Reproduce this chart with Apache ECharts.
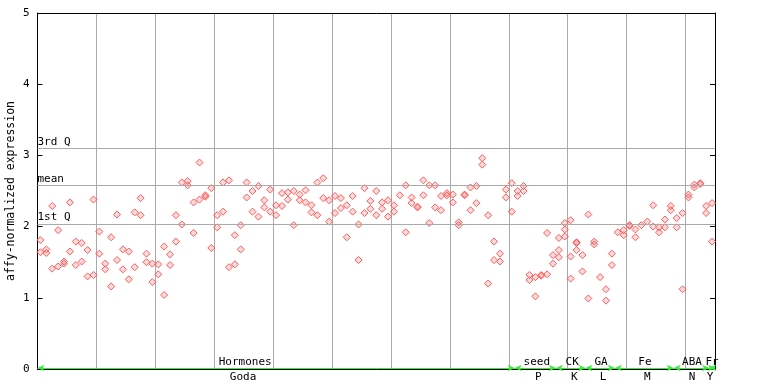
<!DOCTYPE html>
<html><head><meta charset="utf-8">
<script src="https://cdn.jsdelivr.net/npm/echarts@6/dist/echarts.min.js"></script>
<style>html,body{margin:0;padding:0;background:#fff}#c{width:768px;height:384px}</style>
</head><body><div id="c"></div>
<script>
// replicate values per sample slot (left to right)
const expr = [
 [1.81,1.64],[1.68,1.63],[2.29,1.41],[1.95,1.44],[1.51,1.48],[2.34,1.65],[1.79,1.46],[1.77,1.51],[1.67,1.30],[2.38,1.32],
 [1.93,1.62],[1.48,1.40],[1.85,1.16],[2.17,1.53],[1.68,1.40],[1.65,1.26],[2.20,1.43],[2.40,2.16],[1.62,1.50],[1.48,1.22],
 [1.47,1.33],[1.72,1.04],[1.61,1.46],[2.16,1.79],[2.62,2.03],[2.64,2.58],[2.34,1.91],[2.90,2.38],[2.44,2.42],[2.54,1.70],
 [2.16,1.99],[2.62,2.21],[2.65,1.43],[1.88,1.47],[2.02,1.68],[2.62,2.41],[2.50,2.21],[2.57,2.14],[2.37,2.27],[2.52,2.21],
 [2.30,2.16],[2.47,2.29],[2.48,2.38],[2.50,2.02],[2.45,2.37],[2.51,2.34],[2.30,2.20],[2.62,2.16],[2.68,2.40],[2.37,2.07],
 [2.43,2.19],[2.40,2.26],[2.30,1.85],[2.43,2.21],[2.03,1.53],[2.54,2.19],[2.36,2.25],[2.50,2.16],[2.34,2.25],[2.37,2.14],
 [2.30,2.21],[2.44],[2.58,1.92],[2.41,2.33],[2.28,2.27],[2.65,2.44],[2.58,2.05],[2.58,2.27],[2.43,2.23],[2.47,2.44],
 [2.45,2.34],[2.06,2.02],[2.45,2.44],[2.55,2.23],[2.57,2.33],[2.96,2.87],[2.16,1.20],[1.79,1.53],[1.62,1.51],[2.52,2.41],
 [2.61,2.21],[2.50,2.43],[2.57,2.50],[1.32,1.25],[1.29,1.02],[1.32,1.31],[1.91,1.33],[1.60,1.48],[1.84,1.67,1.57],[2.05,1.96,1.86],
 [2.09,1.58,1.27],[1.78,1.77,1.67],[1.60,1.37],[2.17,0.99],[1.79,1.75],[1.29],[1.12,0.96],[1.62,1.46],[1.92],[1.95,1.88],
 [2.02,2.01],[1.96,1.85],[2.02],[2.07],[2.30,2.00],[1.99,1.92],[2.10,1.99],[2.29,2.23],[2.12,1.99],[2.19,1.12],
 [2.45,2.41],[2.59,2.55],[2.61,2.60],[2.29,2.19],[2.33,1.79]
];
const groupNames = ['Hormones','seed','CK','GA','Fe','ABA','Fr'];
const groupSubs  = ['Goda','P','K','L','M','N','Y'];
const groupStart = [0,81,88,93,98,108,114];
const groupEnd   = [81,88,93,98,108,114,115];
const labelPos = [70.5,169.5,181.5,191.3,206.2,222.2,229];
const subPos   = [69.8,170,182.2,192,207,222.2,228.3];
const qNames  = ['3rd Q','mean','1st Q'];
const qValues = [3.10,2.58,2.04];
const yMax = 5;

const FONT = 'DejaVu Sans Mono';
const pts = [];
expr.forEach((reps,k)=>reps.forEach(v=>pts.push([2*k+1,v])));

const chart = echarts.init(document.getElementById('c'),null,{renderer:'canvas'});
const arrowData = groupStart.map((s,i)=>[{coord:[2*s,0.014]},{coord:[2*groupEnd[i],0.014]}]);
chart.setOption({
  animation:false,
  grid:{left:37.5,right:53,top:13,bottom:15,containLabel:false,outerBoundsMode:'none'},
  xAxis:[
    {type:'value',min:0,max:2*expr.length,interval:20,
     axisLine:{show:true,onZero:false,lineStyle:{color:'#000',width:1}},
     axisTick:{show:false},axisLabel:{show:false},
     splitLine:{show:true,lineStyle:{color:'#aaa',width:1}}},
    {type:'value',position:'top',min:0,max:2*expr.length,
     axisLine:{show:true,onZero:false,lineStyle:{color:'#000',width:1}},
     axisTick:{show:false},axisLabel:{show:false},splitLine:{show:false}}
  ],
  yAxis:[
    {type:'value',min:0,max:yMax,interval:1,
     name:'affy-normalized expression',nameLocation:'middle',nameRotate:90,nameGap:20,nameMoveOverlap:false,
     nameTextStyle:{fontFamily:FONT,fontSize:11.5,color:'#000'},
     axisLine:{show:true,onZero:false,lineStyle:{color:'#000'}},
     axisTick:{show:true,inside:true,length:5,lineStyle:{color:'#000'}},
     axisLabel:{fontFamily:FONT,fontSize:11,color:'#000',margin:8},
     splitLine:{show:false}},
    {type:'value',min:0,max:yMax,interval:1,position:'right',
     axisLine:{show:true,onZero:false,lineStyle:{color:'#000'}},
     axisTick:{show:true,inside:true,length:5,lineStyle:{color:'#000'}},
     axisLabel:{show:false},splitLine:{show:false}}
  ],
  series:[
    {type:'scatter',data:pts,symbol:'diamond',symbolSize:7,
     itemStyle:{color:'rgba(255,90,90,0.22)',borderColor:'#ff5a5a',borderWidth:1,opacity:1},
     markLine:{silent:true,symbol:['none','none'],
       lineStyle:{color:'#aaa',width:1,type:'solid'},
       label:{show:true,position:'insideStartTop',formatter:p=>p.name,fontFamily:FONT,fontSize:11,color:'#000',distance:[0,1]},
       data:qValues.map((v,i)=>({name:qNames[i],yAxis:v}))},
     z:3},
    {type:'line',data:[],markLine:{silent:true,symbol:['arrow','arrow'],symbolSize:[5,7],
       lineStyle:{color:'#33ee33',width:1,type:'solid'},label:{show:false},
       data:arrowData},z:4}
  ]
});
const baseY = chart.convertToPixel({yAxisIndex:0},0);
const g = [];
groupNames.forEach((n,i)=>{
  g.push({type:'text',x:chart.convertToPixel({xAxisIndex:0},labelPos[i]),y:baseY-7,
    style:{text:n,font:'11px '+FONT,fill:'#000',textAlign:'center',textVerticalAlign:'middle'},z:10});
  g.push({type:'text',x:chart.convertToPixel({xAxisIndex:0},subPos[i]),y:baseY+8,
    style:{text:groupSubs[i],font:'11px '+FONT,fill:'#000',textAlign:'center',textVerticalAlign:'middle'},z:10});
});
chart.setOption({graphic:g});
</script></body></html>
